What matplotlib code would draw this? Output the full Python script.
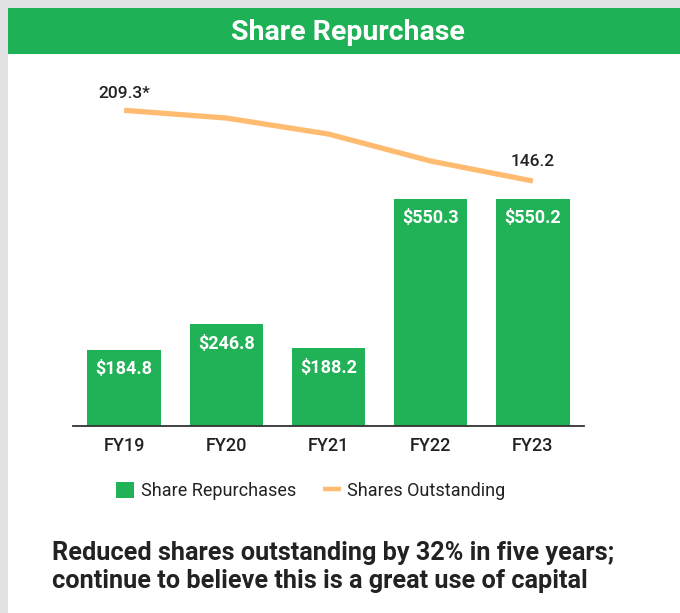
import matplotlib
matplotlib.use("Agg")
import matplotlib.pyplot as plt
from matplotlib.patches import Rectangle, Patch
from matplotlib.lines import Line2D

years = ["FY19", "FY20", "FY21", "FY22", "FY23"]
repurchases = [184.8, 246.8, 188.2, 550.3, 550.2]
shares_out = [209.3, 202.4, 188.1, 164.0, 146.2]
shares_labels = {0: "209.3*", 4: "146.2"}

GREEN = "#21b157"
HEADER = "#1fb155"
ORANGE = "#ffbb70"
DARK = "#222222"

plt.rcParams["font.family"] = ["Roboto", "DejaVu Sans"]

fig = plt.figure(figsize=(6.8, 6.13), dpi=100)
fig.patch.set_facecolor("#e1e2e4")

# white panel and green header
fig.patches.append(Rectangle((8 / 680, 0), 1, 1 - 54 / 613, transform=fig.transFigure,
                             facecolor="white", edgecolor="none", zorder=-10))
fig.patches.append(Rectangle((8 / 680, 1 - 54 / 613), 1, 46 / 613, transform=fig.transFigure,
                             facecolor=HEADER, edgecolor="none", zorder=-10))
fig.text(348 / 680, 1 - 32 / 613, "Share Repurchase", color="white", fontsize=20.5,
         fontweight="bold", ha="center", va="center")

ax = fig.add_axes([73 / 680, 1 - 426 / 613, 511 / 680, 326 / 613])
ax.set_facecolor("none")
x = range(len(years))
bars = ax.bar(x, repurchases, width=0.72, color=GREEN, zorder=2)
ax.set_xlim(-0.5, 4.5)
ax.set_ylim(0, 790.3)
for b, v in zip(bars, repurchases):
    ax.annotate(f"${v:.1f}", (b.get_x() + b.get_width() / 2, v), xytext=(0, -14),
                textcoords="offset points", ha="center", va="center",
                color="white", fontsize=13, fontweight="bold")

for s in ["top", "right", "left"]:
    ax.spines[s].set_visible(False)
ax.spines["bottom"].set_color("#333333")
ax.spines["bottom"].set_linewidth(1.3)
ax.set_yticks([])
ax.set_xticks(list(x))
ax.set_xticklabels(years, fontsize=13, color=DARK, fontweight="medium")
ax.tick_params(axis="x", length=0, pad=8)

ax2 = ax.twinx()
ax2.set_ylim(-72.5, 218.5)
ax2.axis("off")
ax2.plot(list(x), shares_out, color=ORANGE, linewidth=3.8, solid_capstyle="butt")
offsets = {0: 6.5, 4: 8.5}
for i, lab in shares_labels.items():
    ax2.annotate(lab, (i, shares_out[i]), xytext=(0, offsets[i]), textcoords="offset points",
                 ha="center", va="bottom", fontsize=12.5, fontweight="medium", color=DARK)

handles = [Patch(facecolor=GREEN, edgecolor="none"),
           Line2D([0], [0], color=ORANGE, linewidth=3.2, solid_capstyle="butt")]
fig.legend(handles, ["Share Repurchases", "Shares Outstanding"], loc="center",
           bbox_to_anchor=(311 / 680, 1 - 491 / 613), ncol=2, frameon=False,
           fontsize=13, handlelength=1.0, handleheight=1.0, handletextpad=0.35,
           columnspacing=1.5, labelcolor=DARK)

fig.text(52 / 680, 1 - 553 / 613, "Reduced shares outstanding by 32% in five years;",
         fontsize=18.2, fontweight="bold", color=DARK, ha="left", va="center")
fig.text(52 / 680, 1 - 581 / 613, "continue to believe this is a great use of capital",
         fontsize=18.2, fontweight="bold", color=DARK, ha="left", va="center")

fig.savefig("out.png", dpi=100)
